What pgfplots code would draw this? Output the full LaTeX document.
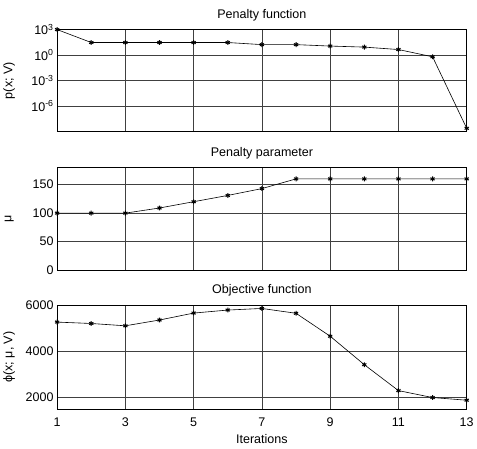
\documentclass[border=0pt]{standalone}
\usepackage{pgfplots}
\pgfplotsset{compat=1.18}
\usepackage{fontspec}
\setmainfont{Liberation Sans}

\pgfplotsset{
  panel/.style={
    width=409pt, scale only axis,
    xmin=1, xmax=13,
    xtick={1,3,...,13},
    grid=major,
    major grid style={black!75, line width=0.5pt},
    axis line style={black, line width=0.6pt},
    major tick length=0pt,
    tick label style={font=\fontsize{12.5}{13}\selectfont},
    xticklabel style={yshift=-5pt},
    label style={font=\fontsize{12.5}{13}\selectfont},
    xlabel style={yshift=-1pt},
    title style={font=\fontsize{12.5}{13}\selectfont, yshift=-1pt},
    /pgf/number format/assume math mode=true,
    /pgf/number format/1000 sep={},
    ylabel style={at={(axis description cs:-0.117,0.5)}, anchor=center},
    clip=false,
  },
  pts/.style={black, line width=0.6pt, mark=asterisk, mark size=2.4pt,
    mark options={line width=1pt}},
}

\begin{document}
\begin{tikzpicture}
% Penalty function
\begin{axis}[panel, at={(62pt,316pt)}, anchor=south west, height=102pt,
    title={Penalty function}, xticklabels={},
    ymode=log, ymin=1e-9, ymax=1e3,
    ytick={1e-6,1e-3,1,1e3},
    yticklabels={10\textsuperscript{-6},10\textsuperscript{-3},10\textsuperscript{0},10\textsuperscript{3}},
    ylabel={p(x; V)}]
\addplot[pts] coordinates {
  (1,1000) (2,30) (3,30) (4,30) (5,30) (6,30) (7,17) (8,17)
  (9,11.5) (10,8.7) (11,4.5) (12,0.63) (13,2.5e-9)
};
\end{axis}
% Penalty parameter
\begin{axis}[panel, at={(62pt,177.7pt)}, anchor=south west, height=102.6pt,
    title={Penalty parameter}, xticklabels={},
    ymin=0, ymax=180, ytick={0,50,100,150},
    ylabel={μ}]
\addplot[pts] coordinates {
  (1,100) (2,100) (3,100) (4,109) (5,120) (6,131) (7,143) (8,160)
  (9,160) (10,160) (11,160) (12,160) (13,160)
};
\end{axis}
% Objective function
\begin{axis}[panel, at={(62pt,39pt)}, anchor=south west, height=104pt,
    title={Objective function},
    ymin=1500, ymax=6000, ytick={2000,4000,6000},
    xlabel={Iterations},
    ylabel={ϕ(x; μ, V)}]
\addplot[pts] coordinates {
  (1,5260) (2,5200) (3,5100) (4,5350) (5,5650) (6,5780) (7,5850) (8,5640)
  (9,4650) (10,3420) (11,2300) (12,2000) (13,1885)
};
\end{axis}
\path ([yshift=6pt]current bounding box.north) ([yshift=-2pt]current bounding box.south);
\end{tikzpicture}
\end{document}
